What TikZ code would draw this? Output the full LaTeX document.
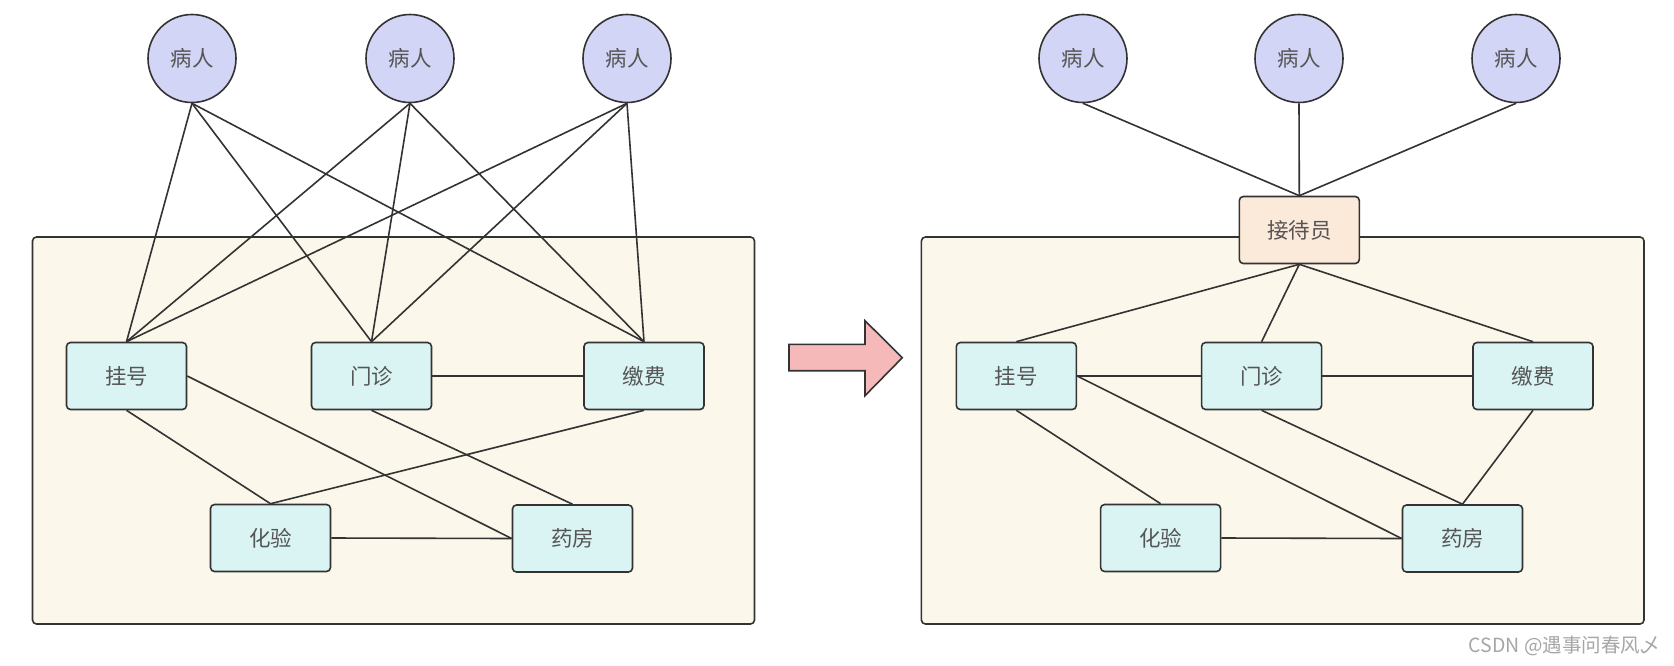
\documentclass[tikz,border=0pt]{standalone}
\usepackage{fontspec}
\setmainfont{Noto Sans CJK SC}
\definecolor{strokec}{HTML}{333333}
\definecolor{patientc}{HTML}{D3D5F7}
\definecolor{boxc}{HTML}{DAF3F3}
\definecolor{contc}{HTML}{FBF7EA}
\definecolor{recc}{HTML}{FBE9DA}
\definecolor{arrowc}{HTML}{F5B9B9}
\definecolor{textc}{HTML}{555555}
\begin{document}
\begin{tikzpicture}[x=1pt,y=-1pt,
  patient/.style={circle,draw=strokec,line width=1.6pt,fill=patientc,minimum size=88pt,inner sep=0pt,font=\fontsize{21.5}{24}\selectfont,text=textc},
  dept/.style={rectangle,rounded corners=4pt,draw=strokec,line width=1.6pt,fill=boxc,minimum width=120pt,minimum height=67pt,inner sep=0pt,font=\fontsize{21.5}{24}\selectfont,text=textc},
  recep/.style={dept,fill=recc},
  cont/.style={rectangle,rounded corners=4pt,draw=strokec,line width=1.6pt,fill=contc,inner sep=0pt},
  link/.style={draw=strokec,line width=1.6pt}]
\useasboundingbox (0,0) rectangle (1674,665);
\fill[white] (0,0) rectangle (1674,665);
% left
\node[cont,minimum width=722pt,minimum height=387pt] (LC) at (393.5,430.5) {};
\node[patient] (lp1) at (192,58.5) {病人};
\node[patient] (lp2) at (410,58.5) {病人};
\node[patient] (lp3) at (627,58.5) {病人};
\node[dept] (lgh) at (126.5,376) {挂号};
\node[dept] (lmz) at (371.5,376) {门诊};
\node[dept] (ljf) at (644,376) {缴费};
\node[dept] (lhy) at (270.5,538) {化验};
\node[dept] (lyf) at (572.5,538.5) {药房};
\foreach \p in {lp1,lp2,lp3}{
  \foreach \d in {lgh,lmz,ljf}{
    \draw[link] (\p.south) -- (\d.north);
  }
}
\draw[link] (lgh.east) -- (lyf.west);
\draw[link] (lgh.south) -- (lhy.north);
\draw[link] (lmz.east) -- (ljf.west);
\draw[link] (lmz.south) -- (lyf.north);
\draw[link] (ljf.south) -- (lhy.north);
\draw[link] (lhy.east) -- (lyf.west);
% arrow
\draw[draw=strokec,line width=1.6pt,fill=arrowc,line join=miter]
  (789,344.3) -- (865,344.3) -- (865,320.7) -- (902.3,357.7) -- (865,395.7) -- (865,370.7) -- (789,370.7) -- cycle;
% right
\node[cont,minimum width=722.6pt,minimum height=387pt] (RC) at (1282.7,430.5) {};
\node[patient] (rp1) at (1083,58.5) {病人};
\node[patient] (rp2) at (1299,58.5) {病人};
\node[patient] (rp3) at (1516,58.5) {病人};
\node[recep] (rjd) at (1299.3,230) {接待员};
\node[dept] (rgh) at (1016.3,376) {挂号};
\node[dept] (rmz) at (1261.6,376) {门诊};
\node[dept] (rjf) at (1533,376) {缴费};
\node[dept] (rhy) at (1160.6,538) {化验};
\node[dept] (ryf) at (1462.5,538.5) {药房};
\foreach \p in {rp1,rp2,rp3}{
  \draw[link] (\p.south) -- (rjd.north);
}
\foreach \d in {rgh,rmz,rjf}{
  \draw[link] (rjd.south) -- (\d.north);
}
\draw[link] (rgh.east) -- (rmz.west);
\draw[link] (rmz.east) -- (rjf.west);
\draw[link] (rgh.south) -- (rhy.north);
\draw[link] (rgh.east) -- (ryf.west);
\draw[link] (rmz.south) -- (ryf.north);
\draw[link] (rjf.south) -- (ryf.north);
\draw[link] (rhy.east) -- (ryf.west);
% watermark
\node[anchor=east,inner sep=0pt,text=black!35,font=\fontsize{19.5}{22}\selectfont] (wm) at (1660,646) {CSDN @遇事问春风乄};
\end{tikzpicture}
\end{document}
